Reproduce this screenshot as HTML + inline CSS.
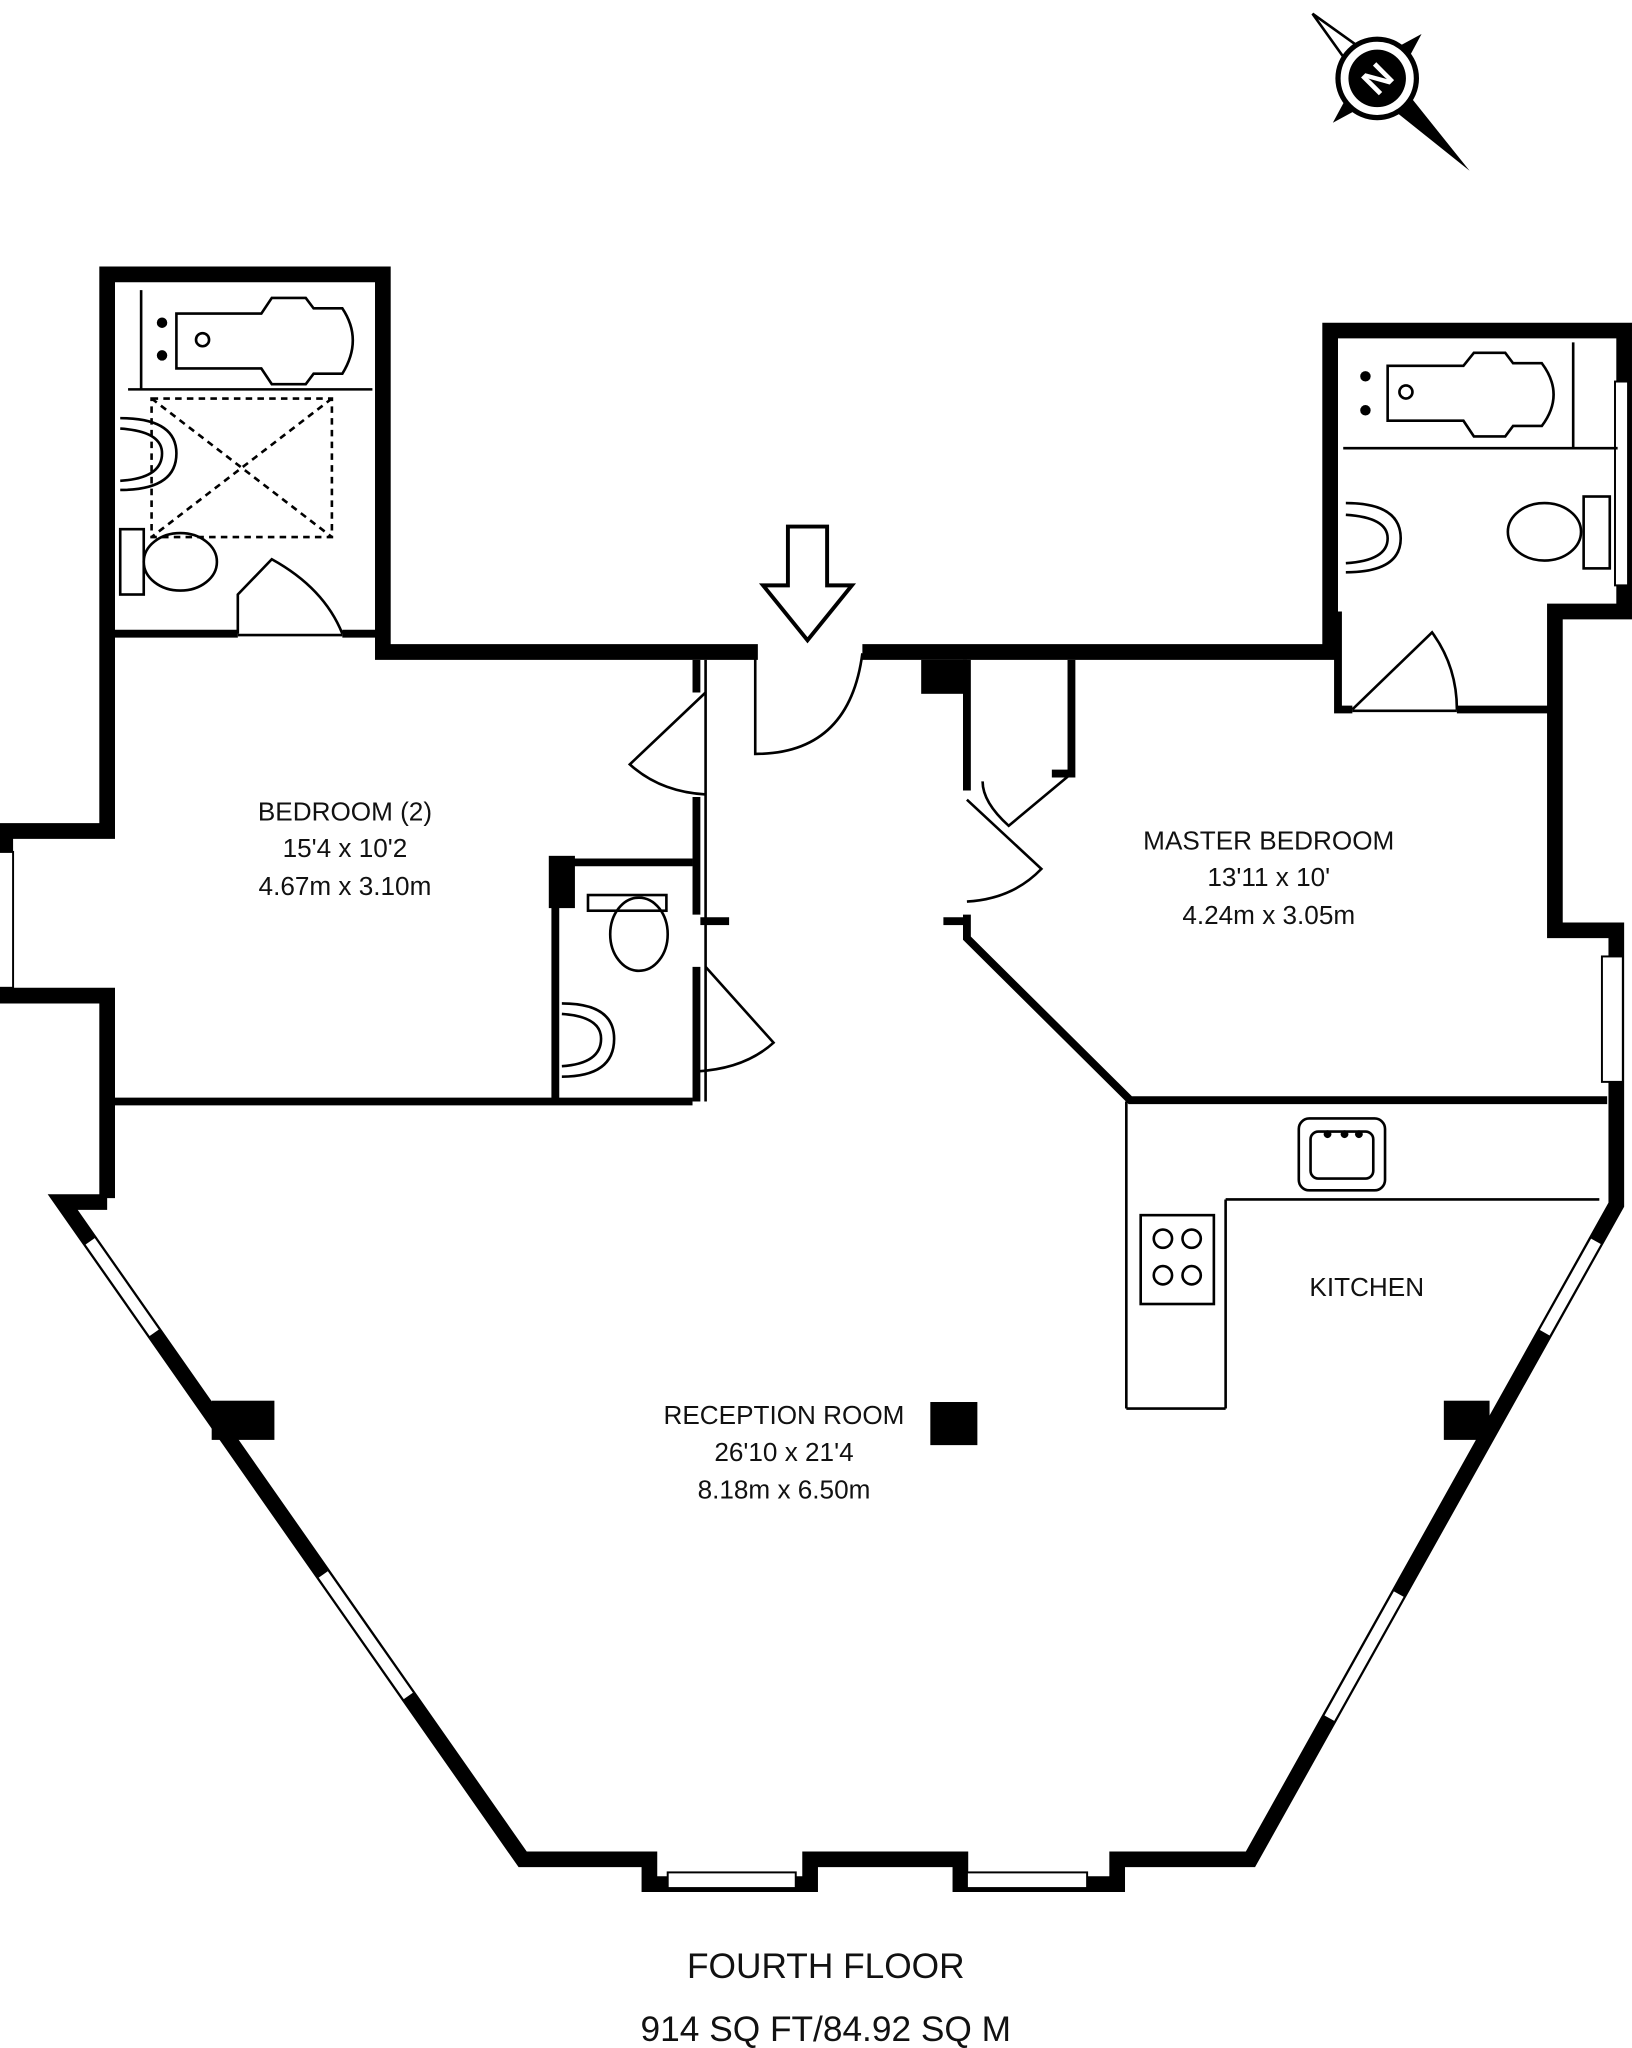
<!DOCTYPE html>
<html><head><meta charset="utf-8"><style>
html,body{margin:0;padding:0;background:#fff;}
svg{display:block;}
text{font-family:"Liberation Sans",sans-serif;fill:#111;}
</style></head><body>
<svg width="1632" height="2048" viewBox="0 0 1249 1567.4" xmlns="http://www.w3.org/2000/svg">
<rect width="1249" height="1568" fill="#fff"/>
<!-- outer walls -->
<g fill="none" stroke="#000" stroke-width="12" stroke-linejoin="miter">
<path d="M82,917 L82,762 L4,762 L4,636 L82,636 L82,210 L293,210 L293,499 L580,499 M660,499 L1018,499 L1018,253 L1243,253 L1243,468 L1190,468 L1190,712 L1237,712 L1237,922 L957,1423 L855,1423 L855,1442 L735,1442 L735,1423 L620,1423 L620,1442 L497,1442 L497,1423 L400,1423 L48,920 L82,920"/>
</g>
<!-- windows -->
<g fill="#fff" stroke="#000" stroke-width="1.5">
<rect x="-2" y="652" width="12" height="104"/>
<rect x="1226" y="732" width="16" height="96"/>
<rect x="511" y="1433" width="98" height="12"/>
<rect x="740" y="1433" width="92" height="12"/>
<rect x="1236" y="292" width="10" height="156"/>
</g>
<g stroke="#fff" stroke-width="8.5" stroke-linecap="butt">
<line x1="69" y1="950" x2="118" y2="1020"/>
<line x1="247.4" y1="1205" x2="312.5" y2="1298"/>
<line x1="1221.4" y1="950" x2="1182.2" y2="1020"/>
<line x1="1070.5" y1="1220" x2="1017.4" y2="1315"/>
</g>
<!-- interior walls -->
<g fill="none" stroke="#000" stroke-width="6">
<path d="M88,485 L182,485 M262,485 L293,485"/>
<path d="M88,843 L530,843"/>
<path d="M533,505 L533,530 M533,610 L533,700"/>
<path d="M533,740 L533,843"/>
<path d="M425,843 L425,660 L530,660"/>
<path d="M740,505 L740,605 M740,700 L740,718 L865,842 L1230,842"/>
<path d="M820,505 L820,592 L805,592"/>
<path d="M1024,468 L1024,543 L1035,543 M1115,543 L1190,543"/>
</g>
<rect x="705" y="505" width="35" height="26" fill="#000"/>
<rect x="420" y="655" width="20" height="40" fill="#000"/>
<rect x="536" y="702" width="22" height="6" fill="#000"/>
<rect x="722" y="702" width="18" height="6" fill="#000"/>
<g fill="none" stroke="#000" stroke-width="2">
<line x1="182" y1="486" x2="262" y2="486"/>
<line x1="1035" y1="544" x2="1115" y2="544"/>
<line x1="540" y1="505" x2="540" y2="843"/>
<line x1="862" y1="843" x2="862" y2="1078"/>
<line x1="862" y1="1078" x2="938" y2="1078"/>
<line x1="938" y1="1078" x2="938" y2="918"/>
<line x1="938" y1="918" x2="1224" y2="918"/>
<line x1="98" y1="298" x2="285" y2="298"/>
<line x1="1028" y1="343" x2="1238" y2="343"/>
<line x1="108" y1="222" x2="108" y2="298"/>
<line x1="1204" y1="262" x2="1204" y2="343"/>
<!-- doors -->
<path d="M182,485 L182,455 L208,428 Q248,450 262,485"/>
<path d="M578,500 L578,577 Q650,577 660,500"/>
<path d="M540,530 L482,585 Q505,606 540,608"/>
<path d="M540,740 L592,798 Q570,818 533,820"/>
<path d="M740,612 L797,665 Q775,688 740,690"/>
<path d="M820,592 L772,632 Q752,614 752,598"/>
<path d="M1035,543 L1096,484 Q1115,510 1115,543"/>
</g>
<!-- bathtubs -->
<g fill="none" stroke="#000" stroke-width="2">
<path d="M135,240 L200,240 L208,228 L234,228 L240,236 L262,236 Q278,260 262,286 L240,286 L234,294 L208,294 L200,282 L135,282 Z"/>
<path d="M1062,280 L1120,280 L1128,270 L1152,270 L1158,278 L1180,278 Q1198,302 1180,326 L1158,326 L1152,334 L1128,334 L1120,322 L1062,322 Z"/>
<circle cx="155" cy="260" r="5"/><circle cx="1076" cy="300" r="5"/>
<rect x="116" y="305" width="138" height="106" stroke-dasharray="5,4"/>
<line x1="116" y1="305" x2="254" y2="411" stroke-dasharray="5,4"/>
<line x1="254" y1="305" x2="116" y2="411" stroke-dasharray="5,4"/>
<path d="M92,320 Q135,320 135,347 Q135,375 92,375"/>
<path d="M92,328 Q124,330 124,347 Q124,366 92,368"/>
<rect x="92" y="405" width="18" height="50"/>
<ellipse cx="138" cy="430" rx="28" ry="22"/>
<path d="M1030,385 Q1072,385 1072,412 Q1072,438 1030,438"/>
<path d="M1030,394 Q1062,396 1062,412 Q1062,429 1030,431"/>
<rect x="1212" y="380" width="20" height="55"/>
<ellipse cx="1182" cy="407" rx="28" ry="22"/>
<rect x="450" y="685" width="60" height="12"/>
<ellipse cx="489" cy="715" rx="22" ry="28"/>
<path d="M430,768 Q470,768 470,795 Q470,824 430,824"/>
<path d="M430,776 Q460,778 460,795 Q460,814 430,816"/>
<rect x="994" y="856" width="66" height="55" rx="8"/>
<rect x="1003" y="866" width="48" height="36" rx="6"/>
<rect x="873" y="930" width="56" height="68"/>
<circle cx="890" cy="948" r="7"/><circle cx="912" cy="948" r="7"/>
<circle cx="890" cy="976" r="7"/><circle cx="912" cy="976" r="7"/>
</g>
<g fill="#000">
<circle cx="124" cy="247" r="4"/><circle cx="124" cy="272" r="4"/>
<circle cx="1045" cy="288" r="4"/><circle cx="1045" cy="314" r="4"/>
<circle cx="1029" cy="868" r="3"/><circle cx="1016" cy="868" r="3"/><circle cx="1040" cy="868" r="3"/>
<rect x="162" y="1072" width="48" height="30"/>
<rect x="712" y="1073" width="36" height="33"/>
<rect x="1105" y="1072" width="35" height="30"/>
</g>
<!-- entrance arrow -->
<path d="M603,403 L633,403 L633,448 L652,448 L618,490 L584,448 L603,448 Z" fill="#fff" stroke="#000" stroke-width="3"/>
<!-- compass -->
<g transform="translate(1054,60) rotate(-45)">
<polygon points="0,-70 -7,-28 7,-28" fill="#fff" stroke="#000" stroke-width="2"/>
<polygon points="0,100 -8,28 8,28" fill="#000"/>
<polygon points="-48,0 -28,-6 -28,6" fill="#000"/>
<polygon points="48,0 28,-6 28,6" fill="#000"/>
<circle r="30" fill="#fff" stroke="#000" stroke-width="4"/>
<circle r="22" fill="#000"/>
<text x="0" y="10" font-size="28" font-weight="bold" text-anchor="middle" style="fill:#fff">N</text>
</g>
<!-- labels -->
<g font-size="20" text-anchor="middle">
<text x="264" y="628">BEDROOM (2)</text>
<text x="264" y="656">15'4 x 10'2</text>
<text x="264" y="685">4.67m x 3.10m</text>
<text x="971" y="650">MASTER BEDROOM</text>
<text x="971" y="678">13'11 x 10'</text>
<text x="971" y="707">4.24m x 3.05m</text>
<text x="1046" y="992">KITCHEN</text>
<text x="600" y="1090">RECEPTION ROOM</text>
<text x="600" y="1118">26'10 x 21'4</text>
<text x="600" y="1147">8.18m x 6.50m</text>
</g>
<text x="632" y="1514" font-size="27" text-anchor="middle">FOURTH FLOOR</text>
<text x="632" y="1562" font-size="27" text-anchor="middle">914 SQ FT/84.92 SQ M</text>
</svg>
</body></html>
